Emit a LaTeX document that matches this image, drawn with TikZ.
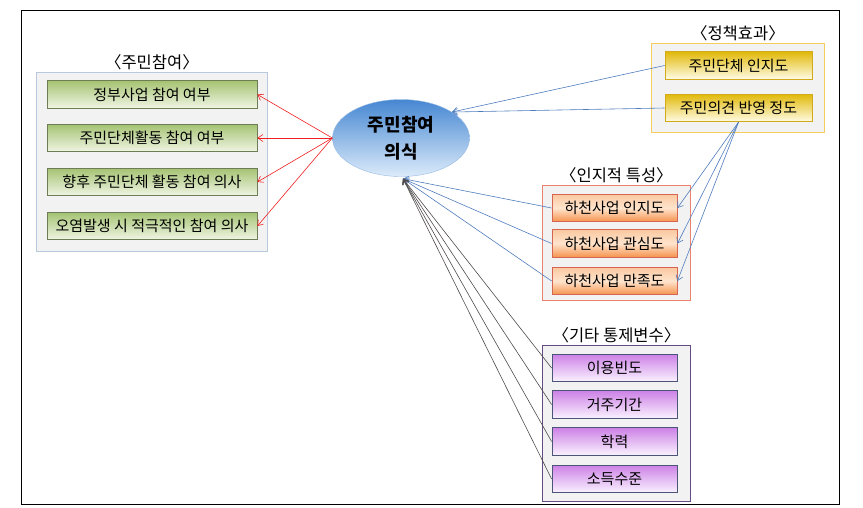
\documentclass[tikz,border=0pt]{standalone}
\usepackage{fontspec}
\setmainfont{Noto Sans CJK KR}
\usepackage{xcolor}
\usetikzlibrary{arrows.meta, positioning, shapes.geometric}
\definecolor{groupbg}{RGB}{242, 242, 242}
\definecolor{partline}{RGB}{185, 200, 220}
\definecolor{parttop}{RGB}{165, 195, 115}
\definecolor{partbot}{RGB}{240, 245, 228}
\definecolor{partdraw}{RGB}{110, 125, 85}
\definecolor{elltop}{RGB}{70, 135, 210}
\definecolor{ellbot}{RGB}{220, 235, 250}
\definecolor{ellline}{RGB}{150, 185, 225}
\definecolor{effline}{RGB}{245, 205, 90}
\definecolor{efftop}{RGB}{225, 185, 10}
\definecolor{effbot}{RGB}{255, 252, 230}
\definecolor{effdraw}{RGB}{210, 170, 30}
\definecolor{cogline}{RGB}{235, 130, 110}
\definecolor{cogtop}{RGB}{250, 200, 160}
\definecolor{cogmid}{RGB}{255, 228, 205}
\definecolor{cogbot}{RGB}{245, 145, 75}
\definecolor{cogdraw}{RGB}{215, 100, 80}
\definecolor{ctrlline}{RGB}{100, 75, 130}
\definecolor{ctrltop}{RGB}{205, 130, 230}
\definecolor{ctrlbot}{RGB}{250, 242, 255}
\definecolor{ctrldraw}{RGB}{75, 85, 120}
\definecolor{arrred}{RGB}{240, 30, 30}
\definecolor{arrblue}{RGB}{80, 125, 190}
\definecolor{arrgray}{RGB}{80, 75, 75}

\begin{document}
\begin{tikzpicture}[x=1pt, y=-1pt, every node/.style={font=\fontsize{15}{18}\selectfont},
  groupbox/.style={draw, fill=groupbg, line width=0.8pt, anchor=north west},
  grouptitle/.style={font=\fontsize{16.5}{19}\selectfont, inner sep=2pt},
  itembox/.style={draw, line width=0.8pt, minimum height=27.5pt, inner sep=0pt, align=center},
  partbox/.style={itembox, minimum width=210pt, top color=parttop, bottom color=partbot, draw=partdraw},
  effbox/.style={itembox, minimum width=147pt, top color=efftop, bottom color=effbot, draw=effdraw},
  cogbox/.style={itembox, minimum width=125pt, top color=cogtop, bottom color=cogbot, middle color=cogmid, draw=cogdraw},
  ctrlbox/.style={itembox, minimum width=125pt, top color=ctrltop, bottom color=ctrlbot, draw=ctrldraw},
  linkarrow/.style={-{Straight Barb[length=5pt, width=7pt]}, line width=0.6pt}]
  \useasboundingbox (0,0) rectangle (863,507);

  % Frame
  \draw[line width=1pt] (21,10) rectangle (839,504);

  % Participation group
  \node[groupbox, draw=partline, minimum width=231pt, minimum height=179pt] (part) at (36,72) {};
  \node[grouptitle, above] (parttitle) at (part.north) {〈주민참여〉};
  \node[partbox] (p1) at (152,94.5) {정부사업 참여 여부};
  \node[partbox] (p2) at (152,138) {주민단체활동 참여 여부};
  \node[partbox] (p3) at (152,182) {향후 주민단체 활동 참여 의사};
  \node[partbox] (p4) at (152,226) {오염발생 시 적극적인 참여 의사};

  % Awareness ellipse
  \node[ellipse, draw=ellline, top color=elltop, bottom color=ellbot, minimum width=137pt, minimum height=77pt,
    inner sep=0pt, align=center, font=\fontsize{18}{27}\selectfont\bfseries] (aware) at (401,138) {주민참여\\의식};
  \coordinate (awarein) at ([xshift=2pt, yshift=-2pt]aware.south);

  % Policy effect group
  \node[groupbox, draw=effline, minimum width=173pt, minimum height=89pt] (eff) at (651,43) {};
  \node[grouptitle, above] (efftitle) at (eff.north) {〈정책효과〉};
  \node[effbox] (e1) at (738.5,65.5) {주민단체 인지도};
  \node[effbox] (e2) at (738.5,108) {주민의견 반영 정도};

  % Cognitive group
  \node[groupbox, draw=cogline, minimum width=148pt, minimum height=115pt] (cog) at (542,185) {};
  \node[grouptitle, above] (cogtitle) at (cog.north) {〈인지적 특성〉};
  \node[cogbox] (c1) at (614.5,208) {하천사업 인지도};
  \node[cogbox] (c2) at (614.5,243.5) {하천사업 관심도};
  \node[cogbox] (c3) at (614.5,281) {하천사업 만족도};

  % Control group
  \node[groupbox, draw=ctrlline, minimum width=148pt, minimum height=156pt] (ctrl) at (542,345) {};
  \node[grouptitle, above] (ctrltitle) at (ctrl.north) {〈기타 통제변수〉};
  \node[ctrlbox] (t1) at (614.5,368) {이용빈도};
  \node[ctrlbox] (t2) at (614.5,404.5) {거주기간};
  \node[ctrlbox] (t3) at (614.5,441.5) {학력};
  \node[ctrlbox] (t4) at (614.5,479) {소득수준};

  % Arrows
  \draw[linkarrow, arrred] (aware.west) -- (p1.east);
  \draw[linkarrow, arrred] (aware.west) -- (p2.east);
  \draw[linkarrow, arrred] (aware.west) -- (p3.east);
  \draw[linkarrow, arrred] (aware.west) -- (p4.east);
  \draw[linkarrow, arrblue] (e1.west) -- (aware.27);
  \draw[linkarrow, arrblue] (e2.west) -- (aware.27);
  \draw[linkarrow, arrblue] (e2.south) -- (c1.east);
  \draw[linkarrow, arrblue] (e2.south) -- (c2.east);
  \draw[linkarrow, arrblue] (e2.south) -- (c3.east);
  \draw[linkarrow, arrblue] (c1.west) -- (awarein);
  \draw[linkarrow, arrblue] (c2.west) -- (awarein);
  \draw[linkarrow, arrblue] (c3.west) -- (awarein);
  \draw[linkarrow, arrgray] (t1.west) -- (awarein);
  \draw[linkarrow, arrgray] (t2.west) -- (awarein);
  \draw[linkarrow, arrgray] (t3.west) -- (awarein);
  \draw[linkarrow, arrgray] (t4.west) -- (awarein);
\end{tikzpicture}
\end{document}
